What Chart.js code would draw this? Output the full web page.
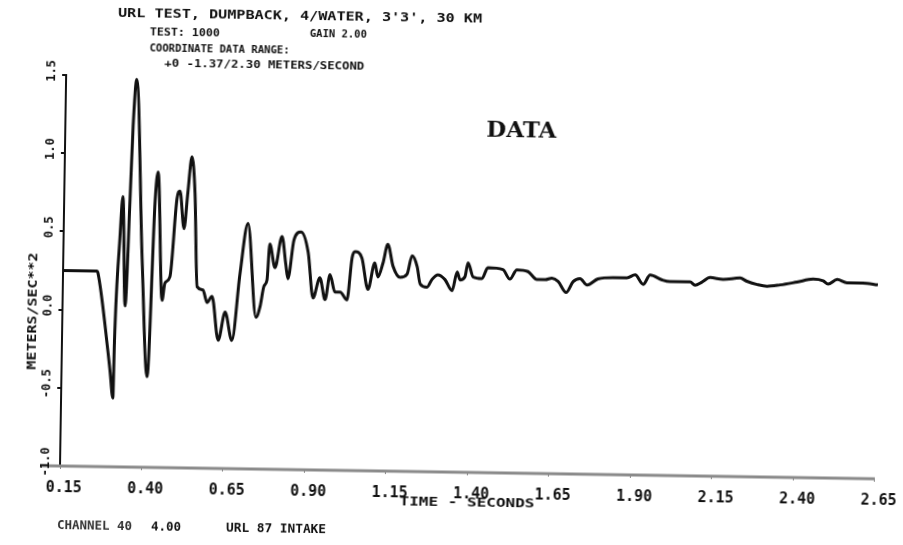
<!DOCTYPE html>
<html>
<head>
<meta charset="utf-8">
<script src="https://cdn.jsdelivr.net/npm/chart.js@4/dist/chart.umd.min.js"></script>
<style>
  html, body { margin: 0; padding: 0; background: #fff; overflow: hidden; }
  #wrap { width: 903px; height: 545px; }
  /* the plotter sheet sits slightly askew */
  #plot { display: block; transform: rotate(0.9deg); transform-origin: 60px 466px; }
</style>
</head>
<body>
<div id="wrap"><canvas id="plot" width="903" height="545"></canvas></div>
<script>
// Acceleration trace, time in seconds
const timeSec = [
  0.150, 0.254, 0.257, 0.292, 0.299, 0.309, 0.311, 0.323, 0.330, 0.342,
  0.352, 0.358, 0.367, 0.392, 0.413, 0.429, 0.437, 0.455, 0.463, 0.478,
  0.496, 0.505, 0.519, 0.529, 0.540, 0.551, 0.562, 0.580, 0.593, 0.608,
  0.629, 0.649, 0.671, 0.693, 0.715, 0.744, 0.756, 0.767, 0.776, 0.783,
  0.800, 0.820, 0.833, 0.840, 0.857, 0.878, 0.901, 0.918, 0.938, 0.955,
  0.969, 0.985, 1.001, 1.022, 1.036, 1.045, 1.066, 1.086, 1.106, 1.116,
  1.131, 1.145, 1.162, 1.184, 1.205, 1.220, 1.236, 1.246, 1.267, 1.282,
  1.300, 1.322, 1.344, 1.359, 1.368, 1.383, 1.392, 1.408, 1.435, 1.453,
  1.499, 1.521, 1.542, 1.576, 1.604, 1.629, 1.650, 1.669, 1.694, 1.715,
  1.736, 1.758, 1.791, 1.837, 1.880, 1.905, 1.930, 1.951, 1.988, 2.012,
  2.043, 2.074, 2.089, 2.110, 2.135, 2.175, 2.227, 2.248, 2.280, 2.310,
  2.350, 2.402, 2.451, 2.482, 2.497, 2.525, 2.555, 2.604, 2.650
];
// Acceleration, meters/sec**2
const accel = [
  0.25, 0.25, 0.24, -0.27, -0.39, -0.56, -0.21, 0.47, 0.73, 0.03,
  0.71, 1.18, 1.48, 0.33, -0.42, 0.70, 0.89, 0.07, 0.18, 0.22,
  0.72, 0.77, 0.53, 0.76, 0.99, 0.76, 0.16, 0.14, 0.06, 0.10,
  -0.18, 0.00, -0.18, 0.25, 0.57, -0.03, 0.04, 0.17, 0.21, 0.44,
  0.29, 0.49, 0.31, 0.22, 0.47, 0.52, 0.39, 0.10, 0.23, 0.09,
  0.25, 0.14, 0.14, 0.09, 0.36, 0.40, 0.36, 0.16, 0.33, 0.24,
  0.33, 0.45, 0.31, 0.24, 0.26, 0.38, 0.31, 0.20, 0.18, 0.23,
  0.26, 0.23, 0.16, 0.28, 0.23, 0.25, 0.34, 0.25, 0.24, 0.31,
  0.30, 0.24, 0.30, 0.29, 0.24, 0.24, 0.25, 0.23, 0.16, 0.23,
  0.25, 0.21, 0.25, 0.26, 0.26, 0.28, 0.22, 0.28, 0.25, 0.24,
  0.24, 0.24, 0.22, 0.24, 0.27, 0.26, 0.27, 0.25, 0.23, 0.22,
  0.23, 0.25, 0.27, 0.26, 0.24, 0.27, 0.25, 0.25, 0.24
];
const timeTicks = [0.15, 0.40, 0.65, 0.90, 1.15, 1.40, 1.65, 1.90, 2.15, 2.40, 2.65];
const accelTicks = [-1.0, -0.5, 0.0, 0.5, 1.0, 1.5];

const headerLines = [
  "URL TEST, DUMPBACK, 4/WATER, 3'3', 30 KM",
  "TEST: 1000",
  "GAIN 2.00",
  "COORDINATE DATA RANGE:",
  "+0 -1.37/2.30 METERS/SECOND"
];
const footerTexts = ["CHANNEL 40", "4.00", "URL 87 INTAKE"];
const xTitle = "TIME - SECONDS";
const yTitle = "METERS/SEC**2";
const tagText = "DATA";

const INK = '#111';
const MONO = '"DejaVu Sans Mono", "Liberation Mono", monospace';

// draw text squeezed/stretched to a given width
function fitText(ctx, text, x, y, w, font, color) {
  ctx.save();
  ctx.font = font;
  ctx.fillStyle = color || INK;
  ctx.textAlign = 'left';
  ctx.textBaseline = 'middle';
  const m = ctx.measureText(text).width;
  ctx.translate(x, y);
  ctx.scale(w / m, 1);
  ctx.fillText(text, 0, 0);
  ctx.restore();
}

const decorations = {
  id: 'decorations',
  beforeDatasetsDraw(chart) {
    const ctx = chart.ctx;
    const xs = chart.scales.x;
    const ys = chart.scales.y;
    // grey time axis, running a little past the vertical axis
    ctx.save();
    ctx.strokeStyle = '#8a8a8a';
    ctx.lineWidth = 3;
    ctx.beginPath();
    ctx.moveTo(xs.left - 20, ys.bottom);
    ctx.lineTo(xs.right, ys.bottom);
    ctx.stroke();
    ctx.restore();
  },
  afterDraw(chart) {
    const ctx = chart.ctx;
    const ys = chart.scales.y;

    // header block
    fitText(ctx, headerLines[0], 111, 13, 364, 'bold 13px ' + MONO);
    fitText(ctx, headerLines[1], 143, 31, 70, 'bold 10px ' + MONO);
    fitText(ctx, headerLines[2], 303, 30, 57, 'bold 10px ' + MONO);
    fitText(ctx, headerLines[3], 143, 47, 140, 'bold 10px ' + MONO);
    fitText(ctx, headerLines[4], 158, 62, 200, 'bold 10px ' + MONO);

    // rotated tick labels on the acceleration axis
    ctx.save();
    ctx.font = 'bold 12px ' + MONO;
    ctx.fillStyle = INK;
    ctx.textAlign = 'center';
    ctx.textBaseline = 'middle';
    ys.ticks.forEach(t => {
      const py = ys.getPixelForValue(t.value);
      ctx.save();
      ctx.translate(ys.right - 14, py - 4);
      ctx.rotate(-Math.PI / 2);
      ctx.fillText(t.value.toFixed(1), 0, 0);
      ctx.restore();
    });
    ctx.restore();

    // vertical axis title
    ctx.save();
    ctx.translate(31, 312);
    ctx.rotate(-Math.PI / 2);
    fitText(ctx, yTitle, -58, 0, 117, 'bold 12px ' + MONO);
    ctx.restore();

    // horizontal axis title
    fitText(ctx, xTitle, 400, 497, 135, 'bold 13px ' + MONO);

    // footer
    fitText(ctx, footerTexts[0], 58, 526, 75, 'bold 12px ' + MONO, '#333');
    fitText(ctx, footerTexts[1], 152, 526, 30, 'bold 12px ' + MONO);
    fitText(ctx, footerTexts[2], 227, 526, 100, 'bold 12px ' + MONO);

    // curve tag
    fitText(ctx, tagText, 481, 124, 70, 'bold 22px "DejaVu Serif", "Liberation Serif", serif');
  }
};

new Chart(document.getElementById('plot'), {
  type: 'line',
  data: {
    datasets: [{
      data: timeSec.map((t, i) => ({ x: t, y: accel[i] })),
      borderColor: INK,
      borderWidth: 3,
      pointRadius: 0,
      cubicInterpolationMode: 'monotone',
      fill: false
    }]
  },
  options: {
    responsive: false,
    devicePixelRatio: 1,
    animation: false,
    events: [],
    layout: { padding: { left: 0, top: 75, right: 28, bottom: 0 } },
    plugins: { legend: { display: false }, title: { display: false }, tooltip: { enabled: false } },
    scales: {
      x: {
        type: 'linear',
        min: 0.15,
        max: 2.65,
        afterBuildTicks: s => { s.ticks = timeTicks.map(v => ({ value: v })); },
        afterFit: s => { s.height = 79; },
        border: { display: false },
        grid: { drawOnChartArea: false, drawTicks: true, tickLength: 3, color: '#888', lineWidth: 1 },
        ticks: {
          color: INK,
          font: { family: MONO, size: 15, weight: 'bold' },
          padding: 10,
          labelOffset: 4,
          maxRotation: 0,
          minRotation: 0,
          callback: v => Number(v).toFixed(2)
        }
      },
      y: {
        type: 'linear',
        min: -1.0,
        max: 1.5,
        afterBuildTicks: s => { s.ticks = accelTicks.map(v => ({ value: v })); },
        afterFit: s => { s.width = 60; },
        border: { display: true, color: INK, width: 2 },
        grid: { drawOnChartArea: false, drawTicks: true, tickLength: 4, color: INK, lineWidth: 2 },
        ticks: { display: false }
      }
    }
  },
  plugins: [decorations]
});
</script>
</body>
</html>
